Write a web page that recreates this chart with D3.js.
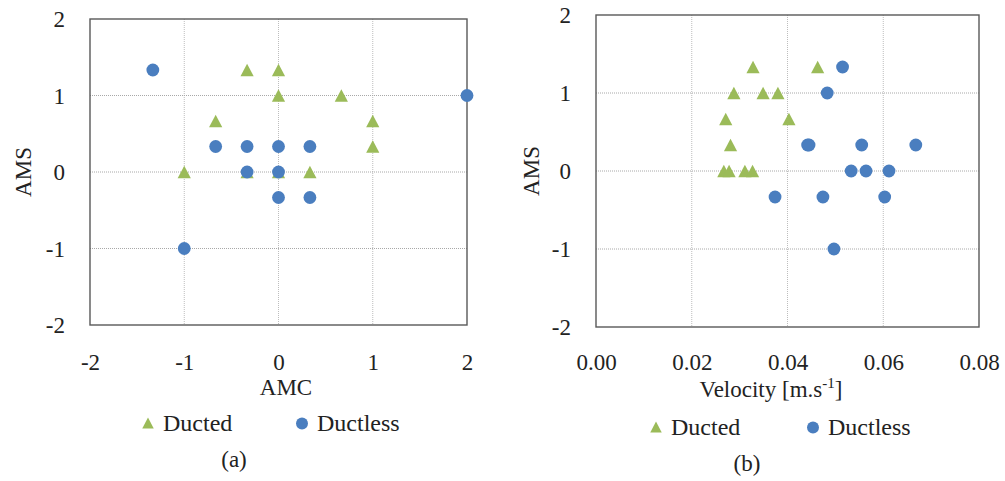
<!DOCTYPE html>
<html>
<head>
<meta charset="utf-8">
<script src="https://cdn.jsdelivr.net/npm/d3@7"></script>
</head>
<body style="margin:0;padding:0;background:#fff">
<svg id="chart" width="1005" height="481" style="display:block"></svg>
<script>
// ---- Data ----
const third = 1 / 3;
// Panel (a): AMC vs AMS
const ductedAMC   = [-third, 0, 0, 2 * third, -2 * third, 1, 1, -1, -third, 0, third];
const ductedAMS_a = [4 * third, 4 * third, 1, 1, 2 * third, 2 * third, third, 0, 0, 0, 0];
const ductlessAMC   = [-4 * third, 2, -2 * third, -third, 0, third, -third, 0, 0, third, -1];
const ductlessAMS_a = [4 * third, 1, third, third, third, third, 0, 0, -third, -third, -1];

// Panel (b): Velocity vs AMS
const ductedVel   = [0.0328, 0.0463, 0.0288, 0.0349, 0.0380, 0.0271, 0.0403, 0.0281, 0.0267, 0.0278, 0.0311, 0.0327];
const ductedAMS_b = [4 * third, 4 * third, 1, 1, 1, 2 * third, 2 * third, third, 0, 0, 0, 0];
const ductlessVel   = [0.0515, 0.0483, 0.0442, 0.0445, 0.0555, 0.0668, 0.0533, 0.0564, 0.0612, 0.0374, 0.0474, 0.0603, 0.0497];
const ductlessAMS_b = [4 * third, 1, third, third, third, third, 0, 0, 0, -third, -third, -third, -1];

const amsTicks = [-2, -1, 0, 1, 2];
const amcTicks = [-2, -1, 0, 1, 2];
const velTicks = [0, 0.02, 0.04, 0.06, 0.08];
const seriesNames = ["Ducted", "Ductless"];
const panelLabels = ["(a)", "(b)"];

const GREEN = "#9BBB59";
const BLUE = "#4A7EBF";
const FONT = 23;
const FAMILY = '"Liberation Serif"';

const svg = d3.select("#chart");
// Excel-style triangle marker: bounding box centred on the point, size = width (height ~ 0.96 width)
const excelTriangle = {
  draw(ctx, size) {
    const w = size, h = size * 0.96;
    ctx.moveTo(0, -h / 2);
    ctx.lineTo(w / 2, h / 2);
    ctx.lineTo(-w / 2, h / 2);
    ctx.closePath();
  }
};
const triangle = d3.symbol().type(excelTriangle).size(13.2);
const legTriangle = d3.symbol().type(excelTriangle).size(11.5);
const intFmt = d => String(d);           // plain hyphen-minus, as in the reference
const velFmt = d => d.toFixed(2);

function txt(sel) {
  return sel.style("font-family", FAMILY).attr("fill", "#222");
}

function panel(cfg) {
  const g = svg.append("g");
  const x = d3.scaleLinear().domain(cfg.xDomain).range([cfg.left, cfg.right]);
  const y = d3.scaleLinear().domain([-2, 2]).range([cfg.bottom, cfg.top]);

  // gridlines
  g.selectAll(".vg").data(cfg.xTicks.slice(1, -1)).join("line")
    .attr("x1", d => x(d)).attr("x2", d => x(d))
    .attr("y1", cfg.top).attr("y2", cfg.bottom)
    .attr("stroke", "#bdbdbd").attr("stroke-width", 1).attr("stroke-dasharray", "1,1");
  g.selectAll(".hg").data(amsTicks.slice(1, -1)).join("line")
    .attr("x1", cfg.left).attr("x2", cfg.right)
    .attr("y1", d => y(d)).attr("y2", d => y(d))
    .attr("stroke", "#a8a8a8").attr("stroke-width", 1).attr("stroke-dasharray", "1,1");

  // axes (labels only)
  const xAxis = d3.axisBottom(x).tickValues(cfg.xTicks).tickFormat(cfg.xFormat).tickSize(0).tickPadding(0);
  const xa = g.append("g").attr("transform", `translate(0,${cfg.bottom})`).call(xAxis)
    .attr("font-family", "Liberation Serif").attr("font-size", FONT);
  xa.select(".domain").remove();
  txt(xa.selectAll("text")).attr("dy", null).attr("y", 370 - cfg.bottom);

  const yAxis = d3.axisLeft(y).tickValues(amsTicks).tickFormat(intFmt).tickSize(0).tickPadding(0);
  const ya = g.append("g").attr("transform", `translate(${cfg.left},0)`).call(yAxis)
    .attr("font-family", "Liberation Serif").attr("font-size", FONT);
  ya.select(".domain").remove();
  txt(ya.selectAll("text")).attr("x", -25).attr("dy", "0.34em");

  // plot border
  g.append("rect").attr("x", cfg.left).attr("y", cfg.top)
    .attr("width", cfg.right - cfg.left).attr("height", cfg.bottom - cfg.top)
    .attr("fill", "none").attr("stroke", "#595959").attr("stroke-width", 1.4);

  // points
  g.selectAll(".tri").data(cfg.ductedX.map((v, i) => [v, cfg.ductedY[i]])).join("path")
    .attr("d", triangle)
    .attr("transform", d => `translate(${x(d[0])},${y(d[1])})`)
    .attr("fill", GREEN);
  g.selectAll(".dot").data(cfg.ductlessX.map((v, i) => [v, cfg.ductlessY[i]])).join("circle")
    .attr("cx", d => x(d[0])).attr("cy", d => y(d[1])).attr("r", 6.4)
    .attr("fill", BLUE);

  // y title
  txt(g.append("text")).attr("transform", `translate(${cfg.yTitleX},${(cfg.top + cfg.bottom) / 2}) rotate(-90)`)
    .attr("text-anchor", "middle").attr("font-size", FONT).text("AMS");

  // x title
  const xt = txt(g.append("text")).attr("x", cfg.xTitleX).attr("y", cfg.xTitleY)
    .attr("text-anchor", "middle").attr("font-size", FONT);
  cfg.xTitle(xt);

  // legend
  const ly = cfg.legendY;
  g.append("path").attr("d", legTriangle)
    .attr("transform", `translate(${cfg.legTri},${ly - 8})`).attr("fill", GREEN);
  txt(g.append("text")).attr("x", cfg.legTri + 15).attr("y", ly).attr("font-size", FONT + 1).text(seriesNames[0]);
  g.append("circle").attr("cx", cfg.legDot).attr("cy", ly - 7.5).attr("r", 6).attr("fill", BLUE);
  txt(g.append("text")).attr("x", cfg.legDot + 15).attr("y", ly).attr("font-size", FONT + 1).text(seriesNames[1]);

  // panel label
  txt(g.append("text")).attr("x", cfg.labelX).attr("y", cfg.labelY).attr("text-anchor", "middle")
    .attr("font-size", FONT).text(cfg.label);
}

panel({
  xDomain: [-2, 2], xTicks: amcTicks, xFormat: intFmt,
  left: 90, right: 467, top: 19, bottom: 325,
  ductedX: ductedAMC, ductedY: ductedAMS_a,
  ductlessX: ductlessAMC, ductlessY: ductlessAMS_a,
  yTitleX: 31, xTitleX: 286, xTitleY: 395,
  xTitle: t => t.text("AMC"),
  legendY: 431, legTri: 148, legDot: 302,
  labelX: 234, labelY: 467, label: panelLabels[0]
});

panel({
  xDomain: [0, 0.08], xTicks: velTicks, xFormat: velFmt,
  left: 596, right: 979, top: 15, bottom: 327,
  ductedX: ductedVel, ductedY: ductedAMS_b,
  ductlessX: ductlessVel, ductlessY: ductlessAMS_b,
  yTitleX: 539, xTitleX: 771, xTitleY: 397,
  xTitle: t => {
    t.append("tspan").text("Velocity [m.s");
    t.append("tspan").attr("font-size", 15).attr("dy", -9).text("-1");
    t.append("tspan").attr("dy", 9).text("]");
  },
  legendY: 435, legTri: 656, legDot: 813,
  labelX: 747, labelY: 471, label: panelLabels[1]
});
</script>
</body>
</html>
